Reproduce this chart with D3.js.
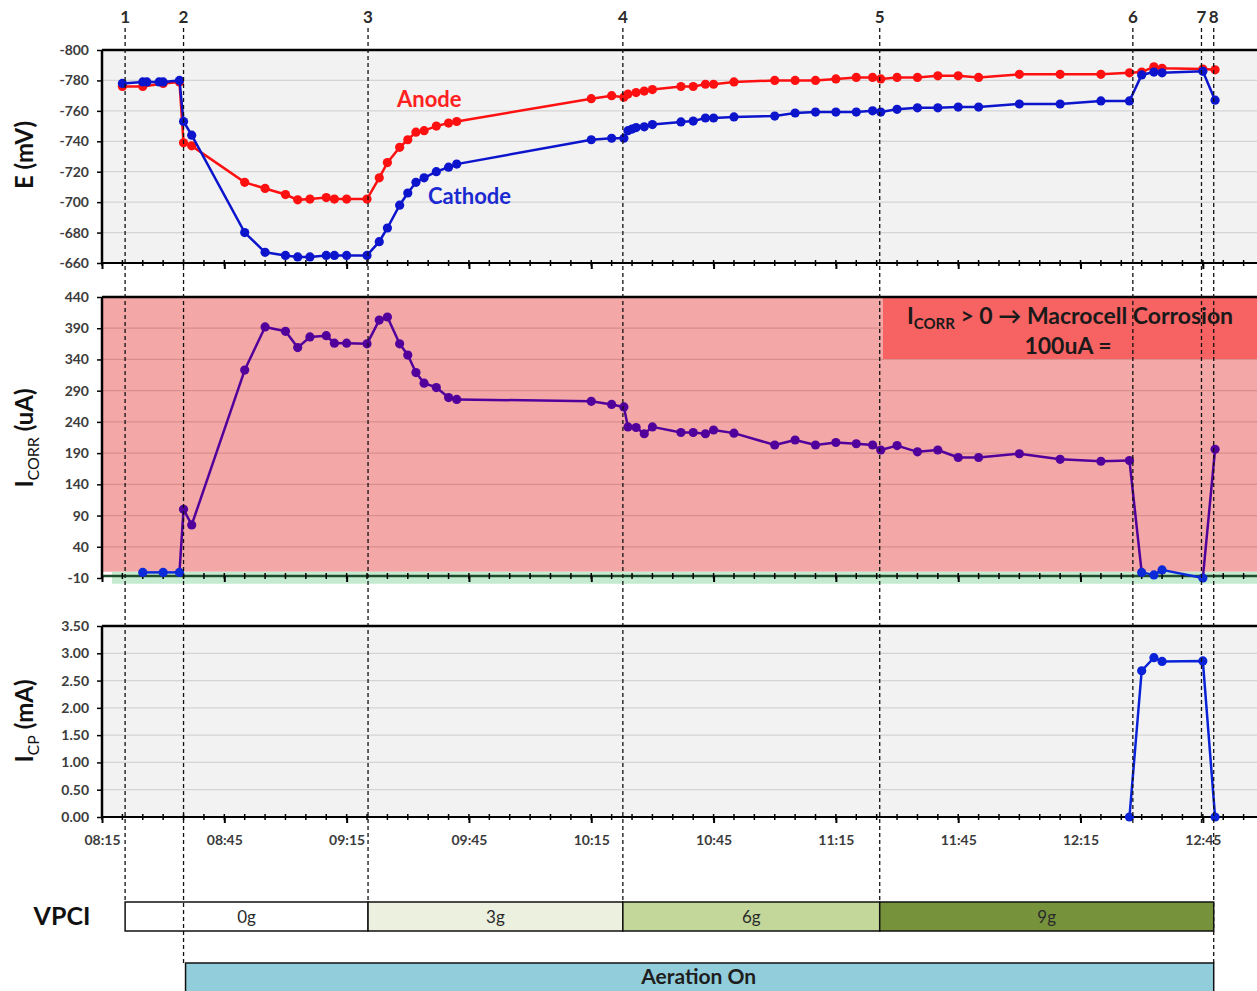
<!DOCTYPE html>
<html>
<head>
<meta charset="utf-8">
<script src="https://cdn.jsdelivr.net/npm/d3@7"></script>
<style>
  body { margin: 0; background: #fff; }
  svg text { font-family: Lato, "Open Sans", sans-serif; }
</style>
</head>
<body>
<div id="chart"></div>
<script>
// ---- data ----
const xTickLabels = ["08:15", "08:45", "09:15", "09:45", "10:15", "10:45", "11:15", "11:45", "12:15", "12:45"];
const eTicks = [-800, -780, -760, -740, -720, -700, -680, -660];
const icorrTicks = [440, 390, 340, 290, 240, 190, 140, 90, 40, -10];
const icpTicks = [3.5, 3, 2.5, 2, 1.5, 1, 0.5, 0];

const eventLabels = ["1", "2", "3", "4", "5", "6", "7", "8"];
const eventTimes = ["08:20:40", "08:35", "09:20:15", "10:22:45", "11:25:45", "12:27:50", "12:44:40", "12:47:40"];

const anodeTimes = ["08:20", "08:25", "08:30", "08:34", "08:35", "08:37",
  "08:50", "08:55", "09:00", "09:03", "09:06", "09:10", "09:12", "09:15", "09:20",
  "09:23", "09:25", "09:28", "09:30", "09:32", "09:34", "09:37", "09:40", "09:42",
  "10:15", "10:20", "10:23", "10:24", "10:26", "10:28", "10:30",
  "10:37", "10:40", "10:43", "10:45", "10:50",
  "11:00", "11:05", "11:10", "11:15", "11:20", "11:24", "11:26", "11:30", "11:35", "11:40", "11:45", "11:50",
  "12:00", "12:10", "12:20", "12:27", "12:30", "12:33", "12:35", "12:45", "12:48"];
const anodeE = [-776, -776, -778, -779, -739, -737,
  -713, -709, -705, -701.5, -702, -703, -702, -702, -702,
  -716, -726, -736, -741, -746, -747, -750, -752, -753,
  -768, -770, -769, -771, -772, -773, -774,
  -776, -776, -777.5, -777.5, -779,
  -780, -780, -780, -781, -782, -782, -781, -782, -782, -783, -783, -782,
  -784, -784, -784, -785, -785.5, -789, -788, -787.5, -787];

const cathodeTimes = ["08:20", "08:25", "08:26", "08:29", "08:30", "08:34", "08:35", "08:37",
  "08:50", "08:55", "09:00", "09:03", "09:06", "09:10", "09:12", "09:15", "09:20",
  "09:23", "09:25", "09:28", "09:30", "09:32", "09:34", "09:37", "09:40", "09:42",
  "10:15", "10:20", "10:23", "10:24", "10:25", "10:26", "10:28", "10:30",
  "10:37", "10:40", "10:43", "10:45", "10:50",
  "11:00", "11:05", "11:10", "11:15", "11:20", "11:24", "11:26", "11:30", "11:35", "11:40", "11:45", "11:50",
  "12:00", "12:10", "12:20", "12:27", "12:30", "12:33", "12:35", "12:45", "12:48"];
const cathodeE = [-778, -779, -779, -779, -779, -780, -753, -744,
  -680, -667, -665, -664, -664, -665, -665, -665, -665,
  -674, -683, -698, -706, -713, -716, -720, -723, -725,
  -741, -742, -742, -747, -748, -749, -749.5, -751,
  -752.7, -753.3, -755.3, -755.3, -756,
  -756.6, -758.6, -759.2, -759.2, -759.2, -760, -759.2, -761, -762, -762, -762.5, -762.5,
  -764.5, -764.5, -766.5, -766.5, -783.6, -785.5, -785, -786, -767];

const icorrTimes = ["08:25", "08:30", "08:34", "08:35", "08:37",
  "08:50", "08:55", "09:00", "09:03", "09:06", "09:10", "09:12", "09:15", "09:20",
  "09:23", "09:25", "09:28", "09:30", "09:32", "09:34", "09:37", "09:40", "09:42",
  "10:15", "10:20", "10:23", "10:24", "10:26", "10:28", "10:30",
  "10:37", "10:40", "10:43", "10:45", "10:50",
  "11:00", "11:05", "11:10", "11:15", "11:20", "11:24", "11:26", "11:30", "11:35", "11:40", "11:45", "11:50",
  "12:00", "12:10", "12:20", "12:27", "12:30", "12:33", "12:35", "12:45", "12:48"];
const icorrUA = [-1, -1, -1, 100, 75,
  323, 392, 385, 359, 376, 378, 366, 366, 365,
  403, 408, 365, 347, 319, 302, 295, 279, 276,
  273, 268, 264, 232, 231, 221, 232,
  223, 223, 221, 227, 222,
  203, 211, 203, 207, 205, 203, 195, 202, 192, 195, 183, 183,
  189, 180, 177, 178, -1, -5, 3, -10, 196];

const icpTimes = ["12:27", "12:30", "12:33", "12:35", "12:45", "12:48"];
const icpMA = [0, 2.68, 2.92, 2.85, 2.86, 0];

const vpciLabels = ["0g", "3g", "6g", "9g"];
const vpciStart = ["08:20:40", "09:20:15", "10:22:45", "11:25:45"];
const vpciEnd = ["09:20:15", "10:22:45", "11:25:45", "12:47:40"];
const aerationLabel = "Aeration On";
const aerationStart = "08:35";
const aerationEnd = "12:47:40";

// ---- helpers ----
function T(s) {
  const p = s.split(":").map(Number);
  return new Date(2000, 0, 1, p[0], p[1], p[2] || 0);
}

const W = 1257, H = 991;
const X0 = 102, X1 = 1264;
const x = d3.scaleTime().domain([T("08:15"), T("13:00")]).range([X0, X1]);

const svg = d3.select("#chart").append("svg")
  .attr("width", W).attr("height", H);

const yE = d3.scaleLinear().domain([-800, -660]).range([50, 263]);
const yI = d3.scaleLinear().domain([440, -10]).range([297, 578]);
const yP = d3.scaleLinear().domain([3.5, 0]).range([626, 817]);

// plain hyphen for negatives, like the spreadsheet output
const intFmt = d => String(d);

function gridLines(y, ticks, color) {
  const top = d3.min(y.range()), bot = d3.max(y.range());
  svg.append("g").selectAll("line")
    .data(ticks.filter(t => y(t) > top + 1 && y(t) < bot - 1))
    .enter().append("line")
    .attr("x1", X0).attr("x2", X1)
    .attr("y1", d => y(d)).attr("y2", d => y(d))
    .attr("stroke", color).attr("stroke-width", 1.3);
}

function yAxis(y, ticks, fmt) {
  const g = svg.append("g")
    .attr("transform", `translate(${X0},0)`)
    .call(d3.axisLeft(y).tickValues(ticks).tickFormat(fmt).tickSize(5).tickPadding(8));
  g.select(".domain").remove();
  g.selectAll("line").attr("stroke", "#000").attr("stroke-width", 1.5);
  g.selectAll("text")
    .attr("font-size", 14).attr("font-weight", 700).attr("fill", "#3c3c3c")
    .style("font-family", "Lato, sans-serif");
}

function xTicks(yPos, labels) {
  const minor = d3.timeMinute.every(5).range(T("08:15"), T("13:01"));
  svg.append("g").selectAll("line").data(minor).enter().append("line")
    .attr("x1", d => x(d)).attr("x2", d => x(d))
    .attr("y1", yPos - 3).attr("y2", yPos + 3)
    .attr("stroke", "#000").attr("stroke-width", 1.5);
  const g = svg.append("g")
    .attr("transform", `translate(0,${yPos})`)
    .call(d3.axisBottom(x).tickValues(xTickLabels.map(T))
      .tickFormat(labels ? d3.timeFormat("%H:%M") : "")
      .tickSize(6).tickPadding(12));
  g.select(".domain").remove();
  g.selectAll("line").attr("stroke", "#000").attr("stroke-width", 2);
  g.selectAll("text")
    .attr("font-size", 14).attr("font-weight", 700).attr("fill", "#3c3c3c")
    .style("font-family", "Lato, sans-serif");
}

function frame(top, bottom) {
  svg.append("line").attr("x1", X0).attr("x2", X1).attr("y1", top).attr("y2", top)
    .attr("stroke", "#000").attr("stroke-width", 2.5);
  svg.append("line").attr("x1", X0).attr("x2", X0).attr("y1", top).attr("y2", bottom)
    .attr("stroke", "#000").attr("stroke-width", 2.5);
}

const R = 4.6;

// ---- panel 1: potentials ----
svg.append("rect").attr("x", X0).attr("y", 50).attr("width", X1 - X0).attr("height", 213)
  .attr("fill", "#f2f2f2");
gridLines(yE, eTicks, "#d4d4d4");
yAxis(yE, eTicks, intFmt);
frame(50, 263);
svg.append("line").attr("x1", X0).attr("x2", X1).attr("y1", 263).attr("y2", 263)
  .attr("stroke", "#000").attr("stroke-width", 2);
xTicks(263, false);

function series(times, vals, y, color) {
  const pts = times.map((t, i) => [x(T(t)), y(vals[i])]);
  svg.append("path").attr("d", d3.line()(pts))
    .attr("fill", "none").attr("stroke", color).attr("stroke-width", 2.5);
  svg.append("g").selectAll("circle").data(pts).enter().append("circle")
    .attr("cx", d => d[0]).attr("cy", d => d[1]).attr("r", R).attr("fill", color);
}
series(anodeTimes, anodeE, yE, "#ff1010");
series(cathodeTimes, cathodeE, yE, "#0c14cc");

svg.append("text").attr("x", 397).attr("y", 107).text("Anode")
  .attr("fill", "#ff2020").attr("font-size", 22).attr("font-weight", 700);
svg.append("text").attr("x", 428).attr("y", 204).text("Cathode")
  .attr("fill", "#1a2ad0").attr("font-size", 22).attr("font-weight", 700);

// ---- panel 2: corrosion current ----
svg.append("rect").attr("x", X0).attr("y", 297).attr("width", X1 - X0).attr("height", yI(0) - 297)
  .attr("fill", "#f4a7a7");
svg.append("rect").attr("x", X0 + 10).attr("y", yI(0)).attr("width", X1 - X0 - 10).attr("height", 12)
  .attr("fill", "#c4ebd0");
gridLines(yI, icorrTicks.filter(t => t > 0), "#d98e8e");

// legend box
svg.append("rect").attr("x", 883).attr("y", 297).attr("width", X1 - 883).attr("height", 62)
  .attr("fill", "#f76262");
const leg1 = svg.append("text").attr("x", 1070).attr("y", 324)
  .attr("text-anchor", "middle").attr("font-size", 23).attr("font-weight", 700).attr("fill", "#1a1a1a");
leg1.append("tspan").text("I");
leg1.append("tspan").text("CORR").attr("font-size", 15).attr("dy", 5);
leg1.append("tspan").text(" > 0 \u2192 Macrocell Corrosion").attr("dy", -5);
svg.append("text").attr("x", 1068).attr("y", 354).attr("text-anchor", "middle")
  .attr("font-size", 23).attr("font-weight", 700).attr("fill", "#1a1a1a").text("100uA =");

yAxis(yI, icorrTicks, intFmt);
frame(297, 578);
svg.append("line").attr("x1", X0).attr("x2", X1).attr("y1", 576).attr("y2", 576)
  .attr("stroke", "#1e4b2c").attr("stroke-width", 2.5);
xTicks(576, false);

// icorr: blue where the reading is at or below zero, purple otherwise
const icorrPts = icorrTimes.map((t, i) => ({ px: x(T(t)), py: yI(icorrUA[i]), v: icorrUA[i] }));
const segs = d3.pairs(icorrPts);
svg.append("g").selectAll("line").data(segs).enter().append("line")
  .attr("x1", d => d[0].px).attr("y1", d => d[0].py)
  .attr("x2", d => d[1].px).attr("y2", d => d[1].py)
  .attr("stroke", d => (d[0].v < 10 && d[1].v < 10) ? "#0c2ad8" : "#52009c")
  .attr("stroke-width", 2.5);
svg.append("g").selectAll("circle").data(icorrPts).enter().append("circle")
  .attr("cx", d => d.px).attr("cy", d => d.py).attr("r", R)
  .attr("fill", d => d.v < 10 ? "#0c2ad8" : "#52009c");

// ---- panel 3: CP current ----
svg.append("rect").attr("x", X0).attr("y", 626).attr("width", X1 - X0).attr("height", 191)
  .attr("fill", "#f2f2f2");
gridLines(yP, icpTicks, "#d4d4d4");
yAxis(yP, icpTicks, d3.format(".2f"));
frame(626, 817);
svg.append("line").attr("x1", X0).attr("x2", X1).attr("y1", 817).attr("y2", 817)
  .attr("stroke", "#000").attr("stroke-width", 2);
xTicks(817, true);
series(icpTimes, icpMA, yP, "#0a22d8");

// ---- axis titles ----
function vTitle(cx, cy, main, sub, rest) {
  const t = svg.append("text").attr("transform", `translate(${cx},${cy}) rotate(-90)`)
    .attr("text-anchor", "middle").attr("font-size", 24).attr("font-weight", 700).attr("fill", "#111");
  t.append("tspan").text(main);
  if (sub) {
    t.append("tspan").text(sub).attr("font-size", 16).attr("font-weight", 400).attr("dy", 6);
    t.append("tspan").text(rest).attr("dy", -6);
  }
}
vTitle(33, 155, "E (mV)");
vTitle(33, 438, "I", "CORR", " (uA)");
vTitle(33, 721, "I", "CP", " (mA)");

// ---- VPCI and aeration bars ----
const vpciFill = ["#ffffff", "#ebf1de", "#c4d79b", "#76933c"];
vpciLabels.forEach((lab, i) => {
  const a = x(T(vpciStart[i])), b = x(T(vpciEnd[i]));
  svg.append("rect").attr("x", a).attr("y", 902).attr("width", b - a).attr("height", 29)
    .attr("fill", vpciFill[i]).attr("stroke", "#111").attr("stroke-width", 1.5);
  svg.append("text").attr("x", (a + b) / 2).attr("y", 923).attr("text-anchor", "middle")
    .attr("font-size", 17).attr("fill", "#2a2a2a").text(lab);
});
svg.append("text").attr("x", 62).attr("y", 925).attr("text-anchor", "middle")
  .attr("font-size", 25).attr("font-weight", 700).attr("fill", "#111").text("VPCI");

const aA = x(T(aerationStart)), aB = x(T(aerationEnd));
svg.append("rect").attr("x", aA + 2).attr("y", 963).attr("width", aB - aA - 2).attr("height", 40)
  .attr("fill", "#92cddc").attr("stroke", "#111").attr("stroke-width", 1.5);
svg.append("text").attr("x", (aA + aB) / 2).attr("y", 984).attr("text-anchor", "middle")
  .attr("font-size", 21).attr("font-weight", 700).attr("fill", "#1e1e1e").text(aerationLabel);

// ---- event markers ----
const reach = { vpci: 902, aer: 963, axis: 824 };
const eventReach = ["vpci", "aer", "vpci", "vpci", "vpci", "axis", "axis", "aer"];
eventTimes.forEach((t, i) => {
  const ex = x(T(t));
  svg.append("line").attr("x1", ex).attr("x2", ex).attr("y1", 28).attr("y2", reach[eventReach[i]])
    .attr("stroke", "#111").attr("stroke-width", 1.3).attr("stroke-dasharray", "4,3");
  svg.append("text").attr("x", ex).attr("y", 23).attr("text-anchor", "middle")
    .attr("font-size", 17).attr("font-weight", 700).attr("fill", "#2b2b2b").text(eventLabels[i]);
});
</script>
</body>
</html>
